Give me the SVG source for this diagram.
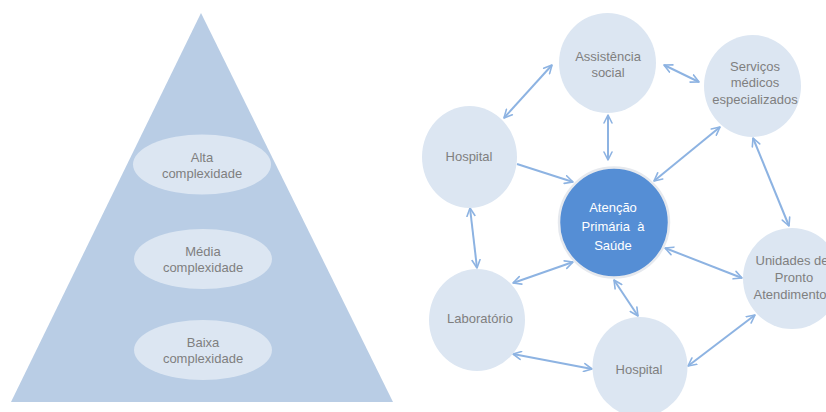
<svg xmlns="http://www.w3.org/2000/svg" width="826" height="412" viewBox="0 0 826 412">
  <style>
    .lvl { fill: #dce6f2; }
    .node { fill: #dce6f2; }
    .lbl { font-family: "Liberation Sans", Arial, sans-serif; font-size: 13px; fill: #7f7f7f; text-anchor: middle; }
    .lblw { font-family: "Liberation Sans", Arial, sans-serif; font-size: 13px; fill: #ffffff; text-anchor: middle; white-space: pre; }
    .link { stroke: #8db3e2; stroke-width: 2; fill: none; }
  </style>
  <defs>
    <marker id="head" viewBox="0 0 10 10" refX="9" refY="5" markerWidth="5" markerHeight="5" orient="auto-start-reverse" markerUnits="strokeWidth">
      <path d="M1,1 L9,5 L1,9" fill="none" stroke="#8db3e2" stroke-width="1.6" stroke-linecap="round" stroke-linejoin="round"/>
    </marker>
  </defs>
  <rect width="826" height="412" fill="#ffffff"/>

  <!-- Pyramid of care levels -->
  <g id="pyramid">
    <polygon points="201,13 393,402 11,402" fill="#b9cde5"/>
  </g>
  <g id="alta">
    <ellipse class="lvl" cx="202" cy="164.5" rx="69" ry="30"/>
    <text class="lbl" x="202" y="161.5">Alta</text>
    <text class="lbl" x="202" y="177.5">complexidade</text>
  </g>
  <g id="media">
    <ellipse class="lvl" cx="203" cy="259" rx="69" ry="30"/>
    <text class="lbl" x="203" y="255.5">Média</text>
    <text class="lbl" x="203" y="271.5">complexidade</text>
  </g>
  <g id="baixa">
    <ellipse class="lvl" cx="203" cy="350" rx="69" ry="30"/>
    <text class="lbl" x="203" y="346.5">Baixa</text>
    <text class="lbl" x="203" y="362.5">complexidade</text>
  </g>

  <!-- Network connectors -->
  <g id="connectors">
    <line class="link" x1="504" y1="118" x2="552" y2="65" marker-start="url(#head)" marker-end="url(#head)"/>
    <line class="link" x1="664" y1="65" x2="699" y2="82" marker-start="url(#head)" marker-end="url(#head)"/>
    <line class="link" x1="608" y1="115" x2="608" y2="160" marker-start="url(#head)" marker-end="url(#head)"/>
    <line class="link" x1="517" y1="164" x2="573" y2="182" marker-end="url(#head)"/>
    <line class="link" x1="654" y1="181" x2="720" y2="127" marker-start="url(#head)" marker-end="url(#head)"/>
    <line class="link" x1="753" y1="138" x2="789" y2="226" marker-start="url(#head)" marker-end="url(#head)"/>
    <line class="link" x1="470" y1="208" x2="477" y2="268" marker-start="url(#head)" marker-end="url(#head)"/>
    <line class="link" x1="513" y1="283" x2="573" y2="262" marker-start="url(#head)" marker-end="url(#head)"/>
    <line class="link" x1="665" y1="248" x2="742" y2="278" marker-start="url(#head)" marker-end="url(#head)"/>
    <line class="link" x1="614" y1="280" x2="638" y2="316" marker-start="url(#head)" marker-end="url(#head)"/>
    <line class="link" x1="513" y1="354" x2="592" y2="369" marker-start="url(#head)" marker-end="url(#head)"/>
    <line class="link" x1="688" y1="366" x2="755" y2="315" marker-start="url(#head)" marker-end="url(#head)"/>
  </g>

  <!-- Network nodes -->
  <g id="assistencia">
    <ellipse class="node" cx="607.5" cy="63" rx="48.5" ry="50"/>
    <text class="lbl" x="608" y="60.5">Assistência</text>
    <text class="lbl" x="608" y="76.5">social</text>
  </g>
  <g id="servicos">
    <ellipse class="node" cx="752.5" cy="86" rx="48.5" ry="51"/>
    <text class="lbl" x="755" y="70.5">Serviços</text>
    <text class="lbl" x="755" y="86.5">médicos</text>
    <text class="lbl" x="755" y="103.5">especializados</text>
  </g>
  <g id="hospital-1">
    <ellipse class="node" cx="469.5" cy="157" rx="47.5" ry="51"/>
    <text class="lbl" x="469" y="160.5">Hospital</text>
  </g>
  <g id="atencao">
    <circle cx="614" cy="222.5" r="55" fill="#558ed5" stroke="#e6e9ee" stroke-width="2.5"/>
    <text class="lblw" x="613" y="211.5">Atenção</text>
    <text class="lblw" x="613" y="230.5">Primária  à</text>
    <text class="lblw" x="613" y="249.5">Saúde</text>
  </g>
  <g id="unidades">
    <ellipse class="node" cx="792" cy="278.5" rx="49" ry="50.5"/>
    <text class="lbl" x="792" y="264.5">Unidades de</text>
    <text class="lbl" x="794" y="281.5">Pronto</text>
    <text class="lbl" x="790" y="298.5">Atendimento</text>
  </g>
  <g id="laboratorio">
    <ellipse class="node" cx="477" cy="320" rx="48" ry="51"/>
    <text class="lbl" x="480" y="322.5">Laboratório</text>
  </g>
  <g id="hospital-2">
    <ellipse class="node" cx="640" cy="367" rx="47.5" ry="50"/>
    <text class="lbl" x="639" y="373.5">Hospital</text>
  </g>
</svg>
